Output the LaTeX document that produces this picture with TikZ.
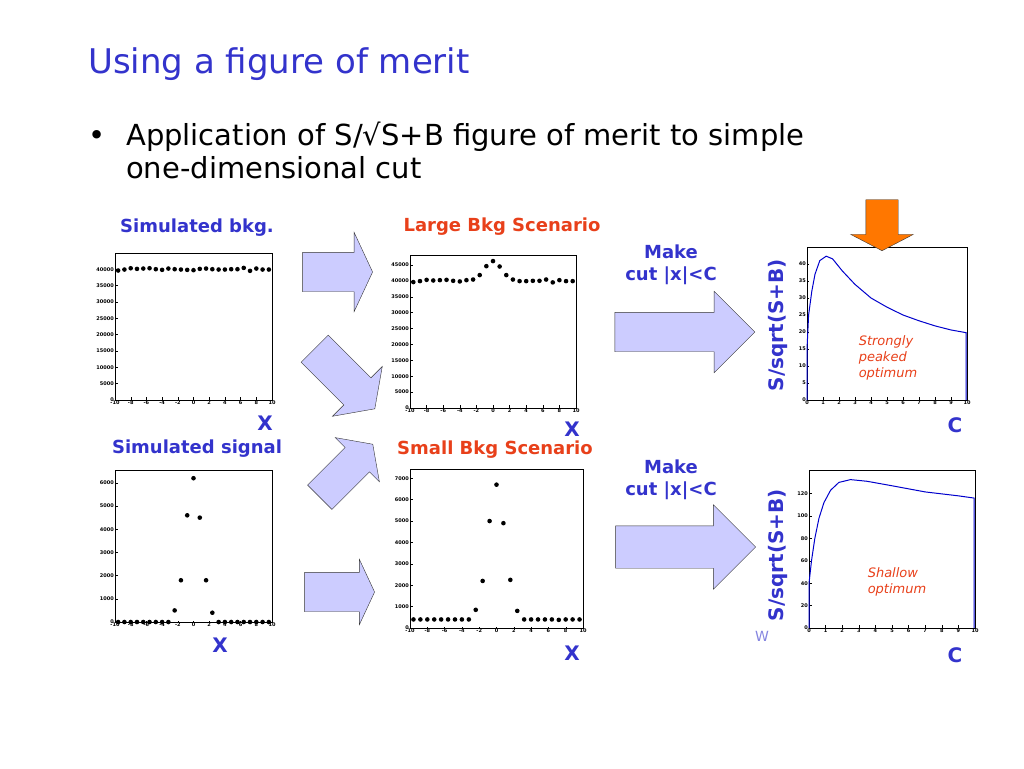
\documentclass[tikz,border=0pt]{standalone}
\usepackage{fontspec}
\setmainfont{DejaVu Sans}
\usetikzlibrary{shapes.arrows}
\definecolor{slideblue}{HTML}{3333CC}
\definecolor{scenred}{HTML}{E8401A}
\definecolor{arrowfill}{HTML}{CCCCFF}
\definecolor{orangearrow}{HTML}{FF7700}
\tikzset{
  blockarrow/.style={single arrow, draw=black!80, fill=arrowfill, thin, minimum height=#1, single arrow head indent=0pt},
  plotframe/.style={draw=black, line width=0.6pt},
  ticklab/.style={font=\bfseries\fontsize{5}{5}\selectfont, inner sep=1pt},
  datapt/.style={fill=black},
  curve/.style={draw=blue!80!black, line width=1pt},
  headlabel/.style={font=\bfseries\fontsize{18}{22}\selectfont},
  axislab/.style={font=\bfseries\fontsize{20}{20}\selectfont, text=slideblue},
  comment/.style={font=\itshape\fontsize{13}{16}\selectfont, text=scenred, align=left},
  bodytext/.style={anchor=base west, font=\fontsize{29}{33}\selectfont, inner sep=0pt}
}
\begin{document}
\begin{tikzpicture}[x=1pt,y=-1pt]
	\useasboundingbox (0,0) rectangle (1024,768);

	% title and bullet
	\node[anchor=base west, text=slideblue, font=\fontsize{34}{38}\selectfont, inner sep=0pt] (title) at (88,74) {Using a figure of merit};
	\node[bodytext] (bullet) at (88,145) {•};
	\node[bodytext] (line1) at (126,145) {Application of S/\symbol{"221A}S+B figure of merit to simple};
	\node[bodytext] (line2) at (126,178) {one-dimensional cut};

	% headings
	\node[headlabel, text=slideblue] (hbkg) at (197,228) {Simulated bkg.};
	\node[headlabel, text=scenred] (hlarge) at (502,227) {Large Bkg Scenario};
	\node[headlabel, text=slideblue] (hsig) at (197,449) {Simulated signal};
	\node[headlabel, text=scenred] (hsmall) at (495,450) {Small Bkg Scenario};
	\node[headlabel, text=slideblue, align=center] (cut1) at (671,265) {Make\\cut |x|<C};
	\node[headlabel, text=slideblue, align=center] (cut2) at (671,480) {Make\\cut |x|<C};

	% plot 1: simulated background (y in thousands)
	\begin{scope}[shift={(193.5,400)}, x=7.85pt, y=3.27pt]
		\draw[plotframe] (-10,0) rectangle (10,45);
		\foreach \v in {0,5,...,40} {
			\draw (-10,\v) -- ++(0.4,0);
			\node[ticklab, anchor=east] at (-10,\v) {\ifnum\v=0 0\else\v000\fi};}
		\foreach \u in {-10,-8,...,10} {
			\draw (\u,0) -- ++(0,1);
			\node[ticklab, anchor=north] at (\u,0) {\u};}
		\foreach \u/\v in {-9.6/39.6,-8.8/39.9,-8/40.3,-7.2/40.1,-6.4/40.2,-5.6/40.3,-4.8/40,-4/39.8,-3.2/40.2,-2.4/40,-1.6/39.9,-0.8/39.8,0/39.7,0.8/40.1,1.6/40.2,2.4/40,3.2/39.9,4/39.9,4.8/40,5.6/40,6.4/40.4,7.2/39.5,8/40.2,8.8/39.9,9.6/39.9}
			\fill[datapt] (\u,\v) circle (2.3pt);
	\end{scope}
	\node[axislab] (xa) at (265,423) {X};

	% plot 2: large background scenario
	\begin{scope}[shift={(493,408)}, x=8.3pt, y=3.18pt]
		\draw[plotframe] (-10,0) rectangle (10,48);
		\foreach \v in {0,5,...,45} {
			\draw (-10,\v) -- ++(0.4,0);
			\node[ticklab, anchor=east] at (-10,\v) {\ifnum\v=0 0\else\v000\fi};}
		\foreach \u in {-10,-8,...,10} {
			\draw (\u,0) -- ++(0,1);
			\node[ticklab, anchor=north] at (\u,0) {\u};}
		\foreach \u/\v in {-9.6/39.6,-8.8/39.9,-8/40.3,-7.2/40.1,-6.4/40.2,-5.6/40.3,-4.8/40,-4/39.8,-3.2/40.2,-2.4/40.4,-1.6/41.8,-0.8/44.6,0/46.2,0.8/44.5,1.6/41.8,2.4/40.4,3.2/39.9,4/39.9,4.8/40,5.6/40,6.4/40.4,7.2/39.5,8/40.2,8.8/39.9,9.6/39.9}
			\fill[datapt] (\u,\v) circle (2.3pt);
	\end{scope}
	\node[axislab] (xb) at (572,429) {X};

	% plot 3: simulated signal
	\begin{scope}[shift={(193.5,622)}, x=7.85pt, y=0.0232pt]
		\draw[plotframe] (-10,0) rectangle (10,6550);
		\foreach \v in {0,1000,...,6000} {
			\draw (-10,\v) -- ++(0.4,0);
			\node[ticklab, anchor=east] at (-10,\v) {\v};}
		\foreach \u in {-10,-8,...,10} {
			\draw (\u,0) -- ++(0,40);
			\node[ticklab, anchor=north] at (\u,0) {\u};}
		\foreach \u/\v in {-9.6/0,-8.8/0,-8/0,-7.2/0,-6.4/0,-5.6/0,-4.8/0,-4/0,-3.2/0,-2.4/500,-1.6/1800,-0.8/4600,0/6200,0.8/4500,1.6/1800,2.4/400,3.2/0,4/0,4.8/0,5.6/0,6.4/0,7.2/0,8/0,8.8/0,9.6/0}
			\fill[datapt] (\u,\v) circle (2.3pt);
	\end{scope}
	\node[axislab] (xc) at (220,645) {X};

	% plot 4: small background scenario
	\begin{scope}[shift={(496.5,628)}, x=8.65pt, y=0.0214pt]
		\draw[plotframe] (-10,0) rectangle (10,7400);
		\foreach \v in {0,1000,...,7000} {
			\draw (-10,\v) -- ++(0.4,0);
			\node[ticklab, anchor=east] at (-10,\v) {\v};}
		\foreach \u in {-10,-8,...,10} {
			\draw (\u,0) -- ++(0,40);
			\node[ticklab, anchor=north] at (\u,0) {\u};}
		\foreach \u/\v in {-9.6/400,-8.8/400,-8/400,-7.2/400,-6.4/400,-5.6/400,-4.8/400,-4/400,-3.2/400,-2.4/850,-1.6/2200,-0.8/5000,0/6700,0.8/4900,1.6/2250,2.4/800,3.2/400,4/400,4.8/400,5.6/400,6.4/400,7.2/380,8/400,8.8/400,9.6/400}
			\fill[datapt] (\u,\v) circle (2.3pt);
	\end{scope}
	\node[axislab] (xd) at (572,653) {X};

	% plot 5: figure of merit, large background
	\begin{scope}[shift={(807,400)}, x=16pt, y=3.4pt]
		\draw[plotframe] (0,0) rectangle (10,45);
		\foreach \v in {0,5,...,40} {
			\draw (0,\v) -- ++(0.15,0);
			\node[ticklab, anchor=east] at (0,\v) {\v};}
		\foreach \u in {0,...,10} {
			\draw (\u,0) -- ++(0,1);
			\node[ticklab, anchor=north] at (\u,0) {\u};}
		\draw[curve] (0,0) -- (0,15) -- (0.1,25) -- (0.3,32) -- (0.5,37) -- (0.8,41) -- (1.2,42.3) -- (1.6,41.5) -- (2.2,38) -- (3,34) -- (4,30) -- (5,27.3) -- (6,25) -- (7,23.3) -- (8,21.8) -- (9,20.6) -- (9.95,19.8) -- (9.95,0);
	\end{scope}
	\node[comment] (strong) at (888,358) {Strongly\\peaked\\optimum};
	\node[axislab, rotate=90] (ya) at (778,325) {S/sqrt(S+B)};
	\node[axislab] (ca) at (955,425) {C};

	% plot 6: figure of merit, small background
	\begin{scope}[shift={(809,628)}, x=16.6pt, y=1.12pt]
		\draw[plotframe] (0,0) rectangle (10,141);
		\foreach \v in {0,20,...,120} {
			\draw (0,\v) -- ++(0.15,0);
			\node[ticklab, anchor=east] at (0,\v) {\v};}
		\foreach \u in {0,...,10} {
			\draw (\u,0) -- ++(0,3);
			\node[ticklab, anchor=north] at (\u,0) {\u};}
		\draw[curve] (0,0) -- (0,40) -- (0.15,60) -- (0.35,80) -- (0.6,98) -- (0.9,112) -- (1.3,123) -- (1.8,130) -- (2.5,132.5) -- (3.5,131) -- (5,127) -- (7,121.5) -- (9,118) -- (9.95,116) -- (9.95,0);
	\end{scope}
	\node[comment] (shallow) at (897,582) {Shallow\\optimum};
	\node[axislab, rotate=90] (yb) at (778,555) {S/sqrt(S+B)};
	\node[axislab] (cb) at (955,655) {C};
	\node[text=slideblue!60, font=\fontsize{14}{14}\selectfont] (wmark) at (762,636) {W};

	% block arrows
	\node[blockarrow=70, inner ysep=19.5pt, single arrow tip angle=130, single arrow head extend=20pt] (a1) at (333,272) {};
	\node[blockarrow=85, inner ysep=19pt, single arrow tip angle=110, single arrow head extend=16pt, rotate=-45] (a2) at (340,374) {};
	\node[blockarrow=75, inner ysep=17pt, single arrow tip angle=110, single arrow head extend=14pt, rotate=45] (a3) at (342,475) {};
	\node[blockarrow=70, inner ysep=19.5pt, single arrow tip angle=130, single arrow head extend=13pt] (a4) at (335,592) {};
	\node[blockarrow=140, inner ysep=19.5pt, single arrow tip angle=90, single arrow head extend=21pt] (a5) at (675,332) {};
	\node[blockarrow=140, inner ysep=21pt, single arrow tip angle=90, single arrow head extend=21pt] (a6) at (675,547) {};
	\node[single arrow, draw=black!80, fill=orangearrow, minimum height=51, inner ysep=16pt, single arrow head extend=15pt, single arrow tip angle=125, single arrow head indent=0pt, rotate=-90] (opt) at (882,221) {};
\end{tikzpicture}
\end{document}
